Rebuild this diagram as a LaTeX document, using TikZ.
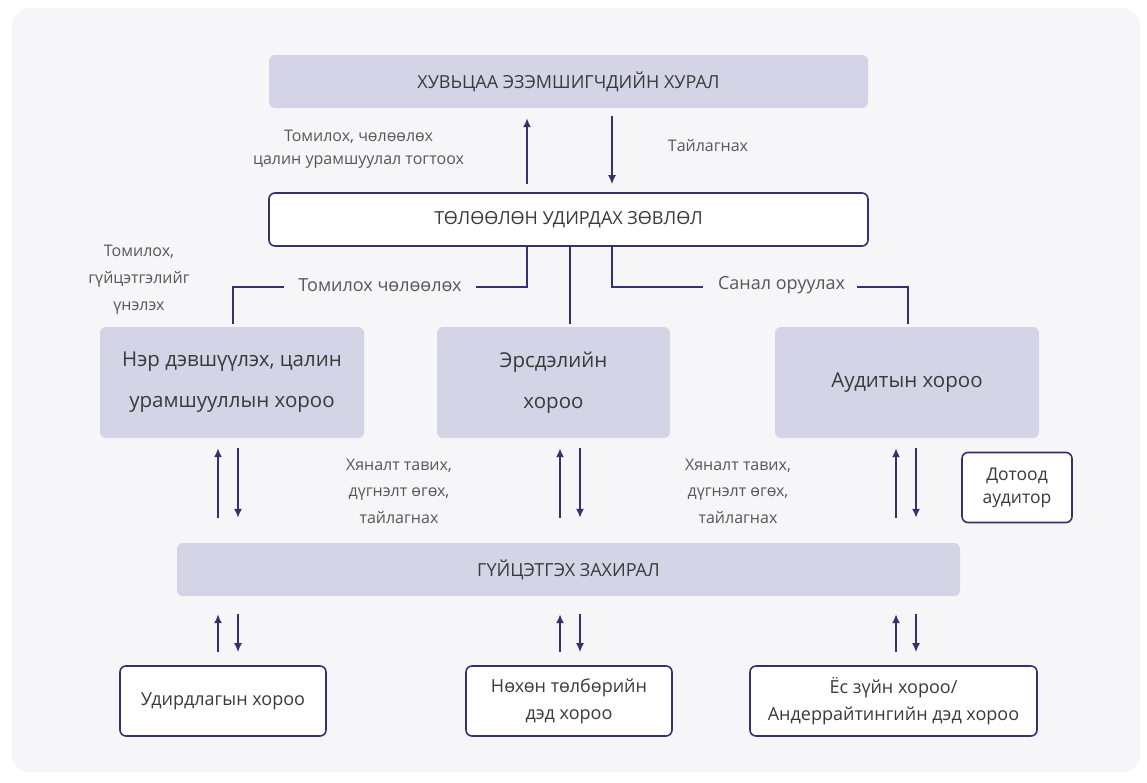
\documentclass[tikz,border=0pt]{standalone}
\usepackage{fontspec}
\setmainfont{Open Sans}
\usepackage{xcolor}
\usetikzlibrary{positioning, arrows.meta}

\definecolor{navy}{HTML}{34316F}
\definecolor{lav}{HTML}{D5D4E7}
\definecolor{txt}{HTML}{3A3A3A}
\definecolor{bgpanel}{HTML}{F6F6F8}

\tikzset{
  fillbox/.style={fill=lav, rounded corners=6pt, text=txt, align=center, inner sep=0pt},
  linebox/.style={draw=navy, line width=1.6pt, fill=white, rounded corners=6pt, text=txt, align=center, inner sep=0pt},
  lbl/.style={text=txt!85!white, align=center, inner sep=0pt, font=\fontsize{16}{23}\selectfont},
  link/.style={navy, line width=1.7pt},
  arr/.style={link, -{Latex[length=9pt,width=8pt]}}
}

\begin{document}
\begin{tikzpicture}[x=1pt, y=-1pt]
\useasboundingbox (0,0) rectangle (1147,782);
\fill[white] (0,0) rectangle (1147,782);
\fill[bgpanel, rounded corners=18pt] (12,8) rectangle (1140,772);

% top level
\node[fillbox, minimum width=599pt, minimum height=53pt, font=\fontsize{18}{22}\selectfont] (hural) at (568.5,81.5) {ХУВЬЦАА ЭЗЭМШИГЧДИЙН ХУРАЛ};
\node[linebox, minimum width=599pt, minimum height=53pt, font=\fontsize{18}{22}\selectfont] (zovlol) at (568.5,219.5) {ТӨЛӨӨЛӨН УДИРДАХ ЗӨВЛӨЛ};

\draw[arr] ([yshift=8pt]zovlol.north -| 527,0) -- ([yshift=-10pt]hural.south -| 527,0);
\draw[arr] ([yshift=-8pt]hural.south -| 612,0) -- ([yshift=8pt]zovlol.north -| 612,0);
\node[lbl] (tomilokh) at (358.5,149) {Томилох, чөлөөлөх\\цалин урамшуулал тогтоох};
\node[lbl] (tailagnakh) at (708,146) {Тайлагнах};

% committees
\node[fillbox, minimum width=264pt, minimum height=111pt, font=\fontsize{20.5}{41}\selectfont] (ner) at (232,382.5) {Нэр дэвшүүлэх, цалин\\урамшууллын хороо};
\node[fillbox, minimum width=233pt, minimum height=111pt, font=\fontsize{20.5}{41}\selectfont] (ersdel) at (553.5,382.5) {Эрсдэлийн\\хороо};
\node[fillbox, minimum width=264pt, minimum height=111pt, font=\fontsize{20.5}{41}\selectfont] (audit) at (907,382.5) {Аудитын хороо};

\node[lbl, font=\fontsize{18}{22}\selectfont] (chelookh) at (380,285) {Томилох чөлөөлөх};
\node[lbl, font=\fontsize{18}{22}\selectfont] (sanal) at (781.5,285) {Санал оруулах};
\node[lbl, font=\fontsize{16}{27}\selectfont] (unelekh) at (139,280) {Томилох,\\гүйцэтгэлийг\\үнэлэх};

\draw[link] (zovlol.south -| 527,0) |- ([xshift=14pt]chelookh.east |- 0,287);
\draw[link] ([xshift=-14pt]chelookh.west |- 0,287) -| ([yshift=3pt]ner.north -| 233,0);
\draw[link] (zovlol.south -| 570,0) -- ([yshift=3pt]ersdel.north -| 570,0);
\draw[link] (zovlol.south -| 612,0) |- ([xshift=-15pt]sanal.west |- 0,287);
\draw[link] ([xshift=12pt]sanal.east |- 0,287) -| ([yshift=3pt]audit.north -| 908,0);

% executive
\node[fillbox, minimum width=783pt, minimum height=53pt, font=\fontsize{18}{22}\selectfont] (zakhiral) at (568.5,569.5) {ГҮЙЦЭТГЭХ ЗАХИРАЛ};
\node[linebox, minimum width=110pt, minimum height=70pt, font=\fontsize{17.5}{23}\selectfont] (dotood) at (1017,487.5) {Дотоод\\аудитор};

\foreach \nm/\xx in {ner/218, ersdel/560, audit/896}{
  \draw[arr] ([yshift=25pt]zakhiral.north -| \xx,0) -- ([yshift=-10pt]\nm.south -| \xx,0);
  \draw[arr] ([yshift=-10pt]\nm.south -| \xx+20,0) -- ([yshift=25pt]zakhiral.north -| \xx+20,0);
}
\node[lbl, font=\fontsize{16}{26.5}\selectfont] (khyanalt1) at (399,491) {Хяналт тавих,\\дүгнэлт өгөх,\\тайлагнах};
\node[lbl, font=\fontsize{16}{26.5}\selectfont] (khyanalt2) at (738,491) {Хяналт тавих,\\дүгнэлт өгөх,\\тайлагнах};

% sub-committees
\node[linebox, minimum width=206pt, minimum height=70pt, font=\fontsize{18}{27}\selectfont] (udirdlaga) at (223,701) {Удирдлагын хороо};
\node[linebox, minimum width=206pt, minimum height=70pt, font=\fontsize{18}{27}\selectfont] (nokhon) at (569,701) {Нөхөн төлбөрийн\\дэд хороо};
\node[linebox, minimum width=287pt, minimum height=70pt, font=\fontsize{18}{27}\selectfont] (yos) at (893.5,701) {Ёс зүйн хороо/\\Андеррайтингийн дэд хороо};

\foreach \nm/\xx in {udirdlaga/218, nokhon/560, yos/896}{
  \draw[arr] ([yshift=13pt]\nm.north -| \xx,0) -- ([yshift=-18pt]zakhiral.south -| \xx,0);
  \draw[arr] ([yshift=-18pt]zakhiral.south -| \xx+20,0) -- ([yshift=13pt]\nm.north -| \xx+20,0);
}
\end{tikzpicture}
\end{document}
